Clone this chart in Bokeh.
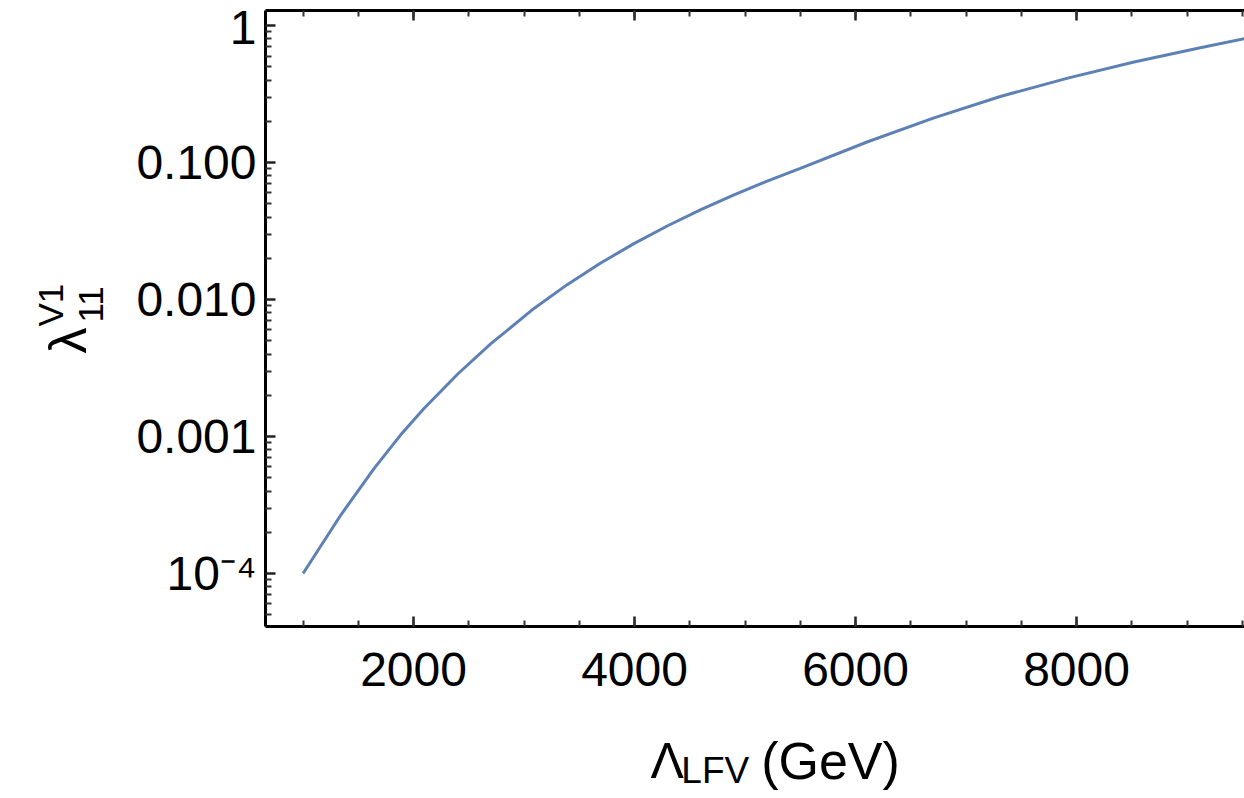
import math
from bokeh.plotting import figure
from bokeh.layouts import row, column
from bokeh.models import (LinearAxis, SingleIntervalTicker, FixedTicker,
                          CustomJSTickFormatter, ColumnDataSource, Range1d)
from bokeh.core.properties import value
from bokeh.embed import file_html
from bokeh.resources import INLINE

# ---- data ----
lambda_lfv = [1000, 1340, 1640, 1880, 2090, 2400, 2700, 3090, 3390, 3690, 3990,
              4300, 4600, 4900, 5200, 5500, 6110, 6710, 7310, 7920, 8520, 9120, 9520]
lambda_v1 = [1.00e-4, 2.66e-4, 5.81e-4, 1.02e-3, 1.59e-3, 2.86e-3, 4.76e-3, 8.61e-3,
             0.01285, 0.0184, 0.0255, 0.0346, 0.0453, 0.0581, 0.0732, 0.0907,
             0.142, 0.212, 0.304, 0.414, 0.542, 0.690, 0.804]
y_tick_values = [1e-4, 1e-3, 1e-2, 1e-1, 1.0]
y_tick_labels = ["10\u207b\u2074", "0.001", "0.010", "0.100", "1"]
x_tick_interval = 2000

FONT = "Liberation Sans"
LINE_COLOR = "#5E81B5"

LEFT_W, MAIN_W, MAIN_H, BOT_H = 128, 1116, 720, 78
TOTAL_H = MAIN_H + BOT_H

# ---- main plot ----
p = figure(width=MAIN_W, height=MAIN_H, output_backend="svg", toolbar_location=None,
           y_axis_type="log", x_range=Range1d(660, 9520), y_range=Range1d(4.1e-5, 1.29),
           min_border_left=137, min_border_right=0, min_border_top=10,
           min_border_bottom=94, outline_line_color=None,
           background_fill_color="white", border_fill_color="white")
p.grid.visible = False

src = ColumnDataSource(dict(x=lambda_lfv, y=lambda_v1))
p.line("x", "y", source=src, line_width=3, line_color=LINE_COLOR)

yminor = [m * 10.0 ** k for k in range(-5, 1) for m in range(2, 10)]
yax = p.yaxis[0]
yax.ticker = FixedTicker(ticks=y_tick_values, minor_ticks=yminor)
yax.formatter = CustomJSTickFormatter(args=dict(vals=y_tick_values, labs=y_tick_labels), code="""
let best = 0, bd = 1e9;
for (let i = 0; i < vals.length; i++) {
  const d = Math.abs(Math.log10(vals[i]) - Math.log10(tick));
  if (d < bd) { bd = d; best = i; }
}
return labs[best];
""")

xax = p.xaxis[0]
xax.ticker = SingleIntervalTicker(interval=x_tick_interval, num_minor_ticks=4)

top = LinearAxis(ticker=SingleIntervalTicker(interval=x_tick_interval, num_minor_ticks=4),
                 formatter=CustomJSTickFormatter(code="return '';"))
top.major_label_standoff = 0
p.add_layout(top, "above")

for ax in (yax, xax, top):
    ax.axis_line_width = 3
    ax.axis_line_color = "black"
    ax.major_tick_in = 10
    ax.major_tick_out = 0
    ax.minor_tick_in = 6
    ax.minor_tick_out = 0
    ax.major_tick_line_width = 2.5
    ax.minor_tick_line_width = 2
    ax.major_tick_line_color = "#222222"
    ax.minor_tick_line_color = "#333333"
    ax.major_label_text_font = FONT
    ax.major_label_text_color = "black"

yax.major_label_text_font_size = "48px"
yax.major_label_standoff = 9
xax.major_label_text_font_size = "48px"
xax.major_label_standoff = 26

# ---- y-axis title panel ----
left = figure(width=LEFT_W, height=TOTAL_H, output_backend="svg", toolbar_location=None,
              x_range=Range1d(0, LEFT_W), y_range=Range1d(0, TOTAL_H),
              x_axis_location=None, y_axis_location=None, min_border=0,
              outline_line_color=None, background_fill_color="white",
              border_fill_color="white")
left.grid.visible = False
ytitle = ColumnDataSource(dict(x=[67, 50, 90], y=[445, 472, 476],
                               t=["\u03bb", "V1", "11"], s=["52px", "35px", "35px"]))
left.text("x", "y", text="t", source=ytitle, angle=math.pi / 2, text_font=value(FONT),
          text_font_size="s", text_color="black", text_align="left",
          text_baseline="alphabetic")

# ---- x-axis title panel ----
bot = figure(width=MAIN_W, height=BOT_H, output_backend="svg", toolbar_location=None,
             x_range=Range1d(0, MAIN_W), y_range=Range1d(0, BOT_H),
             x_axis_location=None, y_axis_location=None, min_border=0,
             outline_line_color=None, background_fill_color="white",
             border_fill_color="white")
bot.grid.visible = False
xtitle = ColumnDataSource(dict(x=[439, 474, 565], y=[38, 28, 38],
                               t=["\u039b", "LFV", "(GeV)"], s=["50px", "37px", "52px"]))
bot.text("x", "y", text="t", source=xtitle, text_font=value(FONT),
         text_font_size="s", text_color="black", text_align="left",
         text_baseline="alphabetic")

layout = row(left, column(p, bot))
open("out.html", "w").write(file_html(layout, INLINE))
